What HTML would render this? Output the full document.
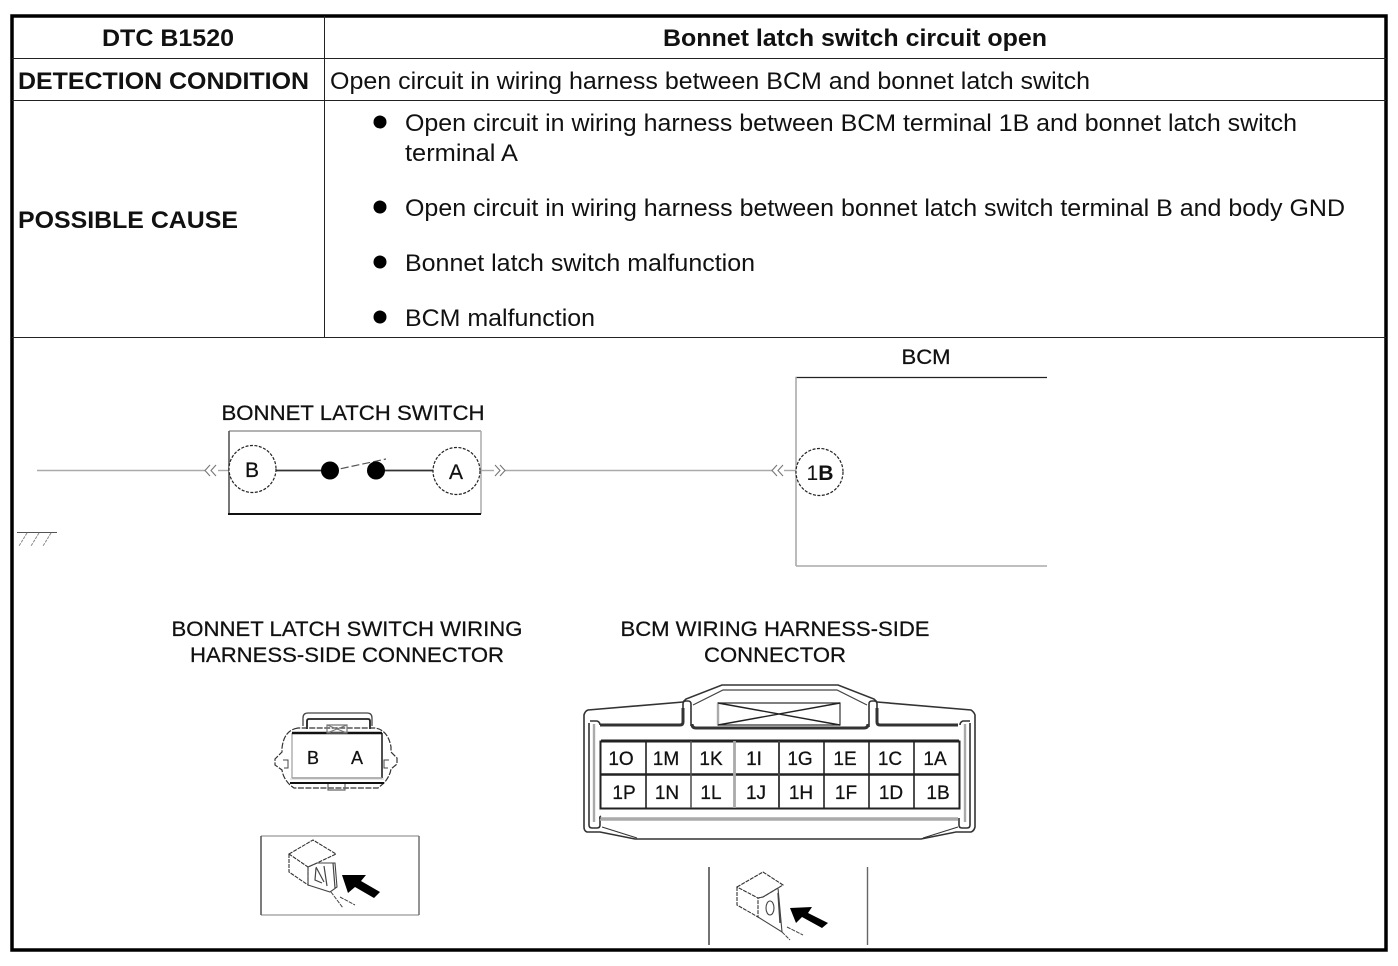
<!DOCTYPE html>
<html>
<head>
<meta charset="utf-8">
<style>
html,body{margin:0;padding:0;background:#fff;}
svg{display:block;}
text{font-family:"Liberation Sans",sans-serif;fill:#111;}
.d{stroke:#111;stroke-width:.25px;}
</style>
</head>
<body>
<svg width="1398" height="966" viewBox="0 0 1398 966" xmlns="http://www.w3.org/2000/svg">
<rect width="1398" height="966" fill="#fff"/>

<!-- table frame -->
<rect x="12" y="16" width="1374" height="934" fill="none" stroke="#000" stroke-width="3.5"/>
<g stroke="#222" stroke-width="1" fill="none">
<line x1="12" y1="58.5" x2="1386" y2="58.5"/>
<line x1="12" y1="100.5" x2="1386" y2="100.5"/>
<line x1="12" y1="337.5" x2="1386" y2="337.5"/>
<line x1="324.5" y1="16" x2="324.5" y2="337"/>
</g>

<!-- table text -->
<g font-size="24">
<text x="168" y="46" text-anchor="middle" font-weight="bold" textLength="132" lengthAdjust="spacingAndGlyphs">DTC B1520</text>
<text x="855" y="46" text-anchor="middle" font-weight="bold" textLength="384" lengthAdjust="spacingAndGlyphs">Bonnet latch switch circuit open</text>
<text x="18" y="89" font-weight="bold" textLength="291" lengthAdjust="spacingAndGlyphs">DETECTION CONDITION</text>
<text x="330" y="89" textLength="760" lengthAdjust="spacingAndGlyphs">Open circuit in wiring harness between BCM and bonnet latch switch</text>
<text x="18" y="228" font-weight="bold" textLength="220" lengthAdjust="spacingAndGlyphs">POSSIBLE CAUSE</text>
<text x="405" y="131" textLength="892" lengthAdjust="spacingAndGlyphs">Open circuit in wiring harness between BCM terminal 1B and bonnet latch switch</text>
<text x="405" y="161" textLength="113" lengthAdjust="spacingAndGlyphs">terminal A</text>
<text x="405" y="216" textLength="940" lengthAdjust="spacingAndGlyphs">Open circuit in wiring harness between bonnet latch switch terminal B and body GND</text>
<text x="405" y="271" textLength="350" lengthAdjust="spacingAndGlyphs">Bonnet latch switch malfunction</text>
<text x="405" y="326" textLength="190" lengthAdjust="spacingAndGlyphs">BCM malfunction</text>
</g>
<g fill="#000">
<circle cx="380" cy="122" r="6.5"/>
<circle cx="380" cy="207" r="6.5"/>
<circle cx="380" cy="262" r="6.5"/>
<circle cx="380" cy="317" r="6.5"/>
</g>

<!-- circuit -->
<text class="d" x="353" y="420" text-anchor="middle" font-size="21" textLength="263" lengthAdjust="spacingAndGlyphs">BONNET LATCH SWITCH</text>
<text class="d" x="926" y="364" text-anchor="middle" font-size="21" textLength="49" lengthAdjust="spacingAndGlyphs">BCM</text>

<g fill="none">
<line x1="37" y1="470.5" x2="205" y2="470.5" stroke="#aaa" stroke-width="1.4"/>
<line x1="218" y1="470.5" x2="229" y2="470.5" stroke="#aaa" stroke-width="1.4"/>
<line x1="481" y1="470.5" x2="494" y2="470.5" stroke="#aaa" stroke-width="1.4"/>
<line x1="505" y1="470.5" x2="772" y2="470.5" stroke="#aaa" stroke-width="1.4"/>
<line x1="784" y1="470.5" x2="796" y2="470.5" stroke="#aaa" stroke-width="1.4"/>
<path d="M210 465l-5 5.500 5 5.500M216 465l-5 5.500 5 5.500" stroke="#777" stroke-width="1.100"/>
<path d="M495 465l5 5.500-5 5.500M500 465l5 5.500-5 5.500" stroke="#777" stroke-width="1.100"/>
<path d="M777 465l-5 5.500 5 5.500M783 465l-5 5.500 5 5.500" stroke="#777" stroke-width="1.100"/>

<!-- switch box -->
<line x1="229" y1="431" x2="481" y2="431" stroke="#999" stroke-width="1.500"/>
<line x1="481" y1="431" x2="481" y2="514" stroke="#aaa" stroke-width="1.500"/>
<line x1="229" y1="431" x2="229" y2="514" stroke="#555" stroke-width="1.600"/>
<line x1="228" y1="514" x2="481" y2="514" stroke="#111" stroke-width="2"/>

<line x1="276" y1="470.500" x2="330" y2="470.500" stroke="#333" stroke-width="1.800"/>
<line x1="376" y1="470.500" x2="433" y2="470.500" stroke="#333" stroke-width="1.800"/>
<line x1="330" y1="471" x2="386" y2="459" stroke="#555" stroke-width="1.200" stroke-dasharray="8 3"/>

<circle cx="252.500" cy="469" r="23.500" stroke="#222" stroke-width="1.200" stroke-dasharray="3 1.500" fill="#fff"/>
<circle cx="456.500" cy="471" r="23.500" stroke="#222" stroke-width="1.200" stroke-dasharray="3 1.500" fill="#fff"/>

<!-- BCM box -->
<line x1="795.500" y1="377.500" x2="1047" y2="377.500" stroke="#222" stroke-width="1.200"/>
<line x1="796" y1="377" x2="796" y2="566" stroke="#aaa" stroke-width="1.600"/>
<line x1="796" y1="566" x2="1047" y2="566" stroke="#aaa" stroke-width="1.600"/>
<circle cx="819.500" cy="472" r="23.500" stroke="#222" stroke-width="1.200" stroke-dasharray="3 1.500" fill="#fff"/>

<!-- ground -->
<line x1="17" y1="532.500" x2="57" y2="532.500" stroke="#555" stroke-width="1"/>
<path d="M27 533l-8 13M39 533l-8 13M51 533l-8 13" stroke="#888" stroke-width="1" stroke-dasharray="3 1"/>
</g>
<circle cx="330" cy="470.500" r="9" fill="#000"/>
<circle cx="376" cy="470.500" r="9" fill="#000"/>
<text class="d" x="252" y="477" text-anchor="middle" font-size="21">B</text>
<text class="d" x="456" y="479" text-anchor="middle" font-size="21">A</text>
<text x="820" y="480" text-anchor="middle" font-size="21" textLength="27" lengthAdjust="spacingAndGlyphs">1<tspan font-weight="bold">B</tspan></text>

<!-- connector captions -->
<g font-size="21" text-anchor="middle" class="d">
<text x="347" y="636" textLength="351" lengthAdjust="spacingAndGlyphs">BONNET LATCH SWITCH WIRING</text>
<text x="347" y="662" textLength="314" lengthAdjust="spacingAndGlyphs">HARNESS-SIDE CONNECTOR</text>
<text x="775" y="636" textLength="309" lengthAdjust="spacingAndGlyphs">BCM WIRING HARNESS-SIDE</text>
<text x="775" y="662" textLength="142" lengthAdjust="spacingAndGlyphs">CONNECTOR</text>
</g>

<!-- small connector -->
<g fill="none" stroke="#333" stroke-width="1.200">
<path d="M303 726v-8q0-5 5-5h59q5 0 5 5v8" stroke="#444" stroke-width="1.300"/>
<path d="M307 729v-8q0-2 2-2h59q2 0 2 2v8" stroke-width="1.800" stroke="#222"/>
<path d="M298 728q-14 2-16 20v4l-7 7v6l7 5q1 8 8 15l4 3h84l6-5q6-7 7-14l6-5v-6l-6-6v-5q-3-17-16-19z" stroke-dasharray="6 1.500"/>
<path d="M283 760h5v8h-4M389 760h-5v8h4" stroke="#444" stroke-width="1"/>
<line x1="292" y1="733" x2="292" y2="778" stroke="#aaa" stroke-width="1.400"/>
<line x1="382" y1="733" x2="382" y2="778" stroke="#222" stroke-width="1.600"/>
<line x1="292" y1="733" x2="382" y2="733" stroke="#111" stroke-width="2.400"/>
<line x1="292" y1="778" x2="382" y2="778" stroke="#999" stroke-width="1.600"/>
<line x1="290" y1="779" x2="384" y2="779" stroke="#ccc" stroke-width="1"/>
<line x1="290" y1="783" x2="384" y2="783" stroke="#111" stroke-width="2"/>
<path d="M327 725h20v8h-20zM327 725l20 8M347 725l-20 8" stroke="#777" stroke-width="1.200"/>
<path d="M328 784v6h17v-6" stroke="#666"/>
</g>
<text class="d" x="313" y="764" text-anchor="middle" font-size="18">B</text>
<text class="d" x="357" y="764" text-anchor="middle" font-size="18">A</text>

<!-- small connector view icon -->
<g fill="none">
<line x1="261" y1="836" x2="419" y2="836" stroke="#aaa" stroke-width="1.500"/>
<line x1="261" y1="915" x2="419" y2="915" stroke="#aaa" stroke-width="1.500"/>
<line x1="261" y1="836" x2="261" y2="915" stroke="#444" stroke-width="1.400"/>
<line x1="419" y1="836" x2="419" y2="915" stroke="#666" stroke-width="1.400"/>
<path d="M289 854l24-14 23 14-19 9-9 4zM289 854v18l19 13v-18" stroke="#333" stroke-width="1.100" stroke-dasharray="4 1"/>
<path d="M308 867l9-4h18l2 24-7 5-22-7z" stroke="#444" stroke-width="1.100"/>
<path d="M316 867l8 15M324 866l3 20M333 863l2 25M316 868l-1 12 7 3" stroke="#444" stroke-width="1.200"/>
<path d="M331 892l12 16M340 897l15 8" stroke="#444" stroke-width="1" stroke-dasharray="4 1"/>
<path d="M342 875h24l-5 6 19 11-6 6-19-11-7 6z" fill="#000"/>
</g>

<!-- BCM connector -->
<g fill="none" stroke="#222">
<path d="M584 715q1-4 4-5l95-8 3-3 36-14h116l36 14 3 3 94 8q3 2 4 5v112q-1 4-4 5h-15l-35 7h-286l-35-7h-13q-3-1-3-5z" stroke-width="1.600" stroke="#333"/>
<path d="M693 705l30-15h114l30 15" stroke="#444" stroke-width="1.200"/>
<path d="M590 721h7q3 1 3 4" stroke="#333" stroke-width="1.600"/>
<path d="M600 725h80q3 0 3-3v-14" stroke="#333" stroke-width="3"/>
<path d="M589 723v102q0 3 3 3h5q3 0 3-3v-7" stroke="#333" stroke-width="1.600"/>
<path d="M594 724v98" stroke="#aaa" stroke-width="2.400"/>
<path d="M600 819h358" stroke="#aaa" stroke-width="3.500"/>
<path d="M601 816q-2 1-1 3" stroke="#333" stroke-width="1.400"/>
<path d="M602 827l35 11" stroke="#333" stroke-width="1"/>
<path d="M958 827l-35 11" stroke="#333" stroke-width="1"/>
<path d="M970 721h-7q-3 1-3 4" stroke="#333" stroke-width="1.600"/>
<path d="M958 725h-78q-3 0-3-3v-14" stroke="#333" stroke-width="3"/>
<path d="M970 723v102q0 3-3 3h-5q-3 0-3-3v-7" stroke="#333" stroke-width="1.600"/>
<path d="M965 724v98" stroke="#aaa" stroke-width="2.400"/>
<path d="M683 708v-4q0-3 3-3h2q3 0 3 3v22" stroke="#333" stroke-width="1.600"/>
<path d="M869 727v-23q0-3 3-3h2q3 0 3 3v4" stroke="#333" stroke-width="1.600"/>
<path d="M692 724q0 4 4 4h168q4 0 4-4" stroke="#333" stroke-width="3"/>
<path d="M718 703h122v22h-122z" stroke="#333" stroke-width="1.200"/>
<line x1="718" y1="703" x2="718" y2="725" stroke="#aaa" stroke-width="2.400"/>
<path d="M718 703l122 22M840 703l-122 22" stroke="#222" stroke-width="1.400"/>
<rect x="600.500" y="741.500" width="359" height="67" stroke="#222" stroke-width="2"/>
<line x1="601" y1="741" x2="959" y2="741" stroke="#222" stroke-width="3"/>
<line x1="601" y1="774.500" x2="959" y2="774.500" stroke="#222" stroke-width="2.400"/>
<g stroke-width="1.600">
<line x1="646" y1="741" x2="646" y2="808"/>
<line x1="691" y1="741" x2="691" y2="808" stroke="#555"/>
<line x1="734.500" y1="741" x2="734.500" y2="808" stroke="#aaa" stroke-width="2.800"/>
<line x1="779" y1="741" x2="779" y2="808" stroke="#444" stroke-width="2"/>
<line x1="824" y1="741" x2="824" y2="808"/>
<line x1="869" y1="741" x2="869" y2="808"/>
<line x1="914" y1="741" x2="914" y2="808"/>
</g>
</g>
<g font-size="19" text-anchor="middle" class="d">
<text x="621" y="765">1O</text>
<text x="666" y="765">1M</text>
<text x="711" y="765">1K</text>
<text x="754" y="765">1I</text>
<text x="800" y="765">1G</text>
<text x="845" y="765">1E</text>
<text x="890" y="765">1C</text>
<text x="935" y="765">1A</text>
<text x="624" y="799">1P</text>
<text x="667" y="799">1N</text>
<text x="711" y="799">1L</text>
<text x="756" y="799">1J</text>
<text x="801" y="799">1H</text>
<text x="846" y="799">1F</text>
<text x="891" y="799">1D</text>
<text x="938" y="799">1B</text>
</g>

<!-- BCM view icon -->
<g fill="none">
<line x1="709" y1="867" x2="709" y2="945" stroke="#444" stroke-width="1.500"/>
<line x1="867.500" y1="867" x2="867.500" y2="945" stroke="#666" stroke-width="1.400"/>
<path d="M737 887l26-15 20 13-20 12-5 1zM737 887v18l21 12v-19" stroke="#333" stroke-width="1.100" stroke-dasharray="4 1"/>
<path d="M758 898l5-1 15-9 4 44-24-15" stroke="#444" stroke-width="1.100"/>
<ellipse cx="770" cy="908" rx="4" ry="7" stroke="#444" stroke-width="1.100"/>
<path d="M778 893l2 30" stroke="#444" stroke-width="1.400"/>
<path d="M782 932l8 8M787 927l16 8" stroke="#444" stroke-width="1" stroke-dasharray="4 1"/>
<path d="M790 908l22-1-4 6 20 10-6 5-20-11-6 6z" fill="#000"/>
</g>
</svg>
</body>
</html>
